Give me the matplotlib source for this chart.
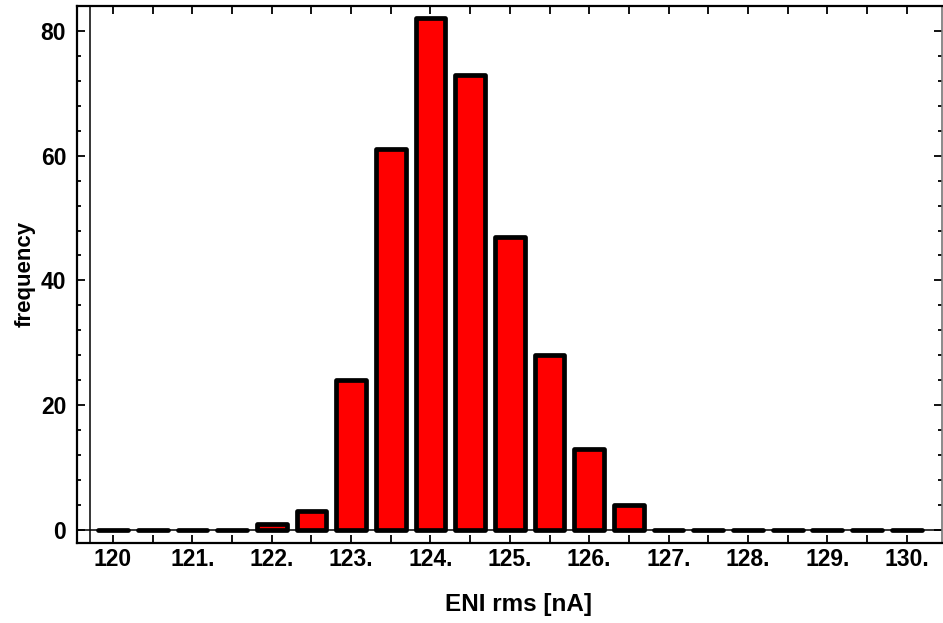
import matplotlib
matplotlib.use('Agg')
import matplotlib.pyplot as plt
from matplotlib.ticker import MultipleLocator

# histogram of ENI rms, bins 0.5 nA wide
bin_centers = [120.0, 120.5, 121.0, 121.5, 122.0, 122.5, 123.0, 123.5, 124.0, 124.5,
               125.0, 125.5, 126.0, 126.5, 127.0, 127.5, 128.0, 128.5, 129.0, 129.5, 130.0]
counts = [0, 0, 0, 0, 1, 3, 24, 61, 82, 73,
          47, 28, 13, 4, 0, 0, 0, 0, 0, 0, 0]

x_ticks = [120, 121, 122, 123, 124, 125, 126, 127, 128, 129, 130]
x_tick_labels = ['120', '121.', '122.', '123.', '124.', '125.', '126.', '127.', '128.', '129.', '130.']
y_ticks = [0, 20, 40, 60, 80]

plt.rcParams['font.family'] = ['Liberation Sans', 'DejaVu Sans']
plt.rcParams['font.weight'] = 'bold'

fig = plt.figure(figsize=(9.43, 6.23), dpi=100)
ax = fig.add_axes([0.082, 0.129, 0.9165, 0.8615])

# axes lines through the origin, drawn under the bars
ax.axhline(0, color='black', lw=1.1, zorder=1)
ax.axvline(119.71, color='black', lw=1.1, zorder=1)

ax.bar(bin_centers, counts, width=0.375, color='#ff0000', edgecolor='black',
       linewidth=3.4, joinstyle='round', capstyle='round', zorder=3)

ax.set_xlim(119.55, 130.44)
ax.set_ylim(-2.03, 84)

ax.set_xticks(x_ticks)
ax.set_xticklabels(x_tick_labels)
ax.xaxis.set_minor_locator(MultipleLocator(0.5))
ax.set_yticks(y_ticks)
ax.yaxis.set_minor_locator(MultipleLocator(4))

ax.tick_params(axis='both', which='both', direction='in', top=True, right=True,
               labelsize=16.5, width=1.3, color='black')
ax.tick_params(axis='x', which='major', length=6, pad=4)
ax.tick_params(axis='x', which='minor', length=6)
ax.tick_params(axis='y', which='major', length=6, pad=8)
ax.tick_params(axis='y', which='minor', length=3)

for side in ['left', 'bottom', 'top']:
    ax.spines[side].set_linewidth(1.6)
ax.spines['right'].set_linewidth(1.2)
ax.spines['right'].set_color('#777777')

ax.set_xlabel('ENI rms [nA]', fontsize=17.5, fontweight='bold')
ax.xaxis.set_label_coords(0.51, -0.093)
ax.set_ylabel('frequency', fontsize=16, fontweight='bold', labelpad=4)

plt.savefig('out.png', dpi=100)
